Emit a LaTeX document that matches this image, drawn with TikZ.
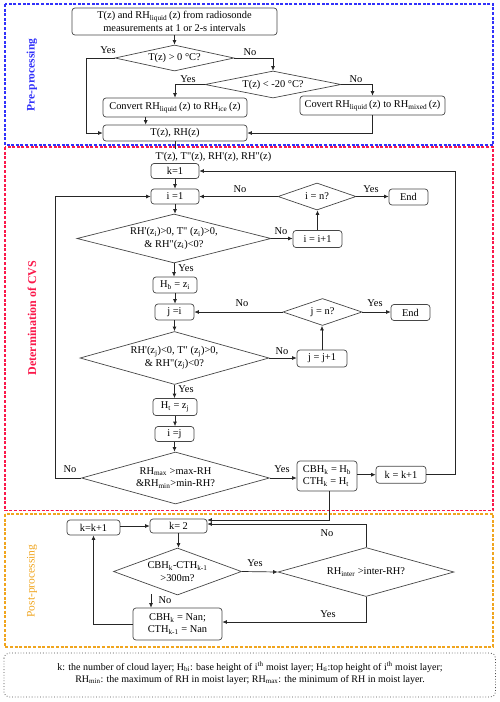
\documentclass[tikz,border=0pt]{standalone}
\usepackage{fontspec}
\setmainfont{Liberation Serif}[Ligatures=TeXOff]
\usetikzlibrary{shapes.geometric,arrows.meta}
\definecolor{cblue}{RGB}{50,50,250}
\definecolor{cred}{RGB}{250,25,75}
\definecolor{corange}{RGB}{240,165,30}
\definecolor{cedge}{RGB}{70,70,70}
\newcommand{\sbx}[1]{\textsubscript{#1}}
\begin{document}
\begin{tikzpicture}[x=1pt,y=-1pt, font=\fontsize{10.4pt}{12.5pt}\selectfont,
 bx/.style 2 args={draw=cedge, line width=0.7pt, rounded corners=3pt, minimum width=#1, minimum height=#2, inner sep=0pt, align=center},
 dm/.style n args={3}{diamond, draw=cedge, line width=0.7pt, minimum width=#1, minimum height=#2, shape aspect=#3, inner sep=0pt, align=center},
 arr/.style={draw=black!85, line width=0.7pt, -{Latex[length=4.5pt,width=4pt]}},
 ln/.style={draw=black!85, line width=0.7pt},
 lbl/.style={inner sep=0pt},
 frame/.style={line width=1.1pt, dash pattern=on 3pt off 1.6pt},
 side/.style={rotate=90, inner sep=0pt}]
\useasboundingbox (0,0) rectangle (500,702);

% frames
\draw[frame, draw=cblue] (5,4) rectangle (493,145);
\draw[frame, draw=cred] (5,147) rectangle (493,510.5);
\draw[frame, draw=corange] (5,514) rectangle (493,647);
\draw[draw=gray!60!black, line width=0.8pt, dotted, rounded corners=5pt] (4,653) rectangle (495.5,697);

% side labels
\node[side, text=cblue, font=\fontsize{11.5pt}{13pt}\selectfont\bfseries] (sp) at (32,75) {Pre-processing};
\node[side, text=cred, font=\fontsize{12pt}{14pt}\selectfont\bfseries] (sd) at (32,318) {Determination of CVS};
\node[side, text=corange, font=\fontsize{11.5pt}{13pt}\selectfont] (so) at (32,581) {Post-processing};

% ---------------- pre-processing
\node[bx={205pt}{27pt}] (n1) at (174.5,21.5) {T(z) and RH\sbx{liquid}\,(z) from radiosonde\\measurements at 1 or 2-s intervals};
\node[dm={119pt}{26pt}{4.58}] (d1) at (174.5,58) {T(z) > 0 °C?};
\node[dm={136pt}{27pt}{5.04}] (d2) at (273,84.5) {T(z) < -20 °C?};
\node[bx={144pt}{19pt}] (bice) at (175,107.5) {Convert RH\sbx{liquid}\,(z) to RH\sbx{ice}\,(z)};
\node[bx={145pt}{19pt}] (bmix) at (372.5,105.5) {Covert RH\sbx{liquid}\,(z) to RH\sbx{mixed}\,(z)};
\node[bx={144pt}{16pt}] (btrh) at (175,133) {T(z), RH(z)};
\coordinate (cL) at (86,133);

\draw[arr] (n1.south) -- (d1.north);
\draw[arr] (d1.west) -| (cL) -- (btrh.west);
\node[lbl] (y1) at (108,50) {Yes};
\draw[arr] (d1.east) -| (d2.north);
\node[lbl] (no1) at (250,52) {No};
\draw[arr] (d2.west) -| (bice.north);
\node[lbl] (y2) at (188,79.5) {Yes};
\draw[arr] (d2.east) -| (bmix.north);
\node[lbl] (no2) at (356,79.5) {No};
\draw[arr] ([xshift=-29.3pt]bice.south) -- ([xshift=-29.3pt]btrh.north);
\draw[arr] (bmix.south) |- (btrh.east);
\coordinate (cT) at (175,148.5);
\draw[ln] (btrh.south) -- (cT);
\node[lbl] (tder) at (213.5,156.5) {T'(z), T"(z), RH'(z), RH"(z)};

% ---------------- determination
\node[bx={48pt}{15pt}] (k1) at (175,171) {k=1};
\node[bx={48pt}{15pt}] (i1) at (175,196.5) {i =1};
\node[dm={78pt}{27pt}{2.89}] (dn1) at (317,196.5) {i = n?};
\node[bx={39pt}{16pt}] (end1) at (408.5,197) {End};
\node[dm={194pt}{49pt}{3.96}] (d3) at (174,238.5) {RH'(z\sbx{i})>0, T" (z\sbx{i})>0,\\ \& RH"(z\sbx{i})<0?};
\node[bx={49pt}{17pt}] (inci) at (317.5,239) {i = i+1};
\node[bx={44pt}{16pt}] (hb) at (175,285) {H\sbx{b} = z\sbx{i}};
\node[bx={39pt}{16pt}] (j1) at (174.5,312) {j =i};
\node[dm={79pt}{27pt}{2.93}] (dn2) at (322.5,312) {j = n?};
\node[bx={39pt}{16pt}] (end2) at (410.5,312.5) {End};
\node[dm={189pt}{53pt}{3.57}] (d4) at (174.5,358) {RH'(z\sbx{j})<0, T" (z\sbx{j})>0,\\ \& RH"(z\sbx{j})<0?};
\node[bx={50pt}{17pt}] (incj) at (322,358.5) {j = j+1};
\node[bx={44pt}{17pt}] (ht) at (175,407) {H\sbx{t} = z\sbx{j}};
\node[bx={39pt}{15pt}] (ij) at (174.5,434) {i =j};
\node[dm={188pt}{52pt}{3.6}] (d5) at (175.5,478) {RH\sbx{max} >max-RH\\\&RH\sbx{min}>min-RH?};
\node[bx={60pt}{30pt}, align=left] (cbh) at (327,476) {CBH\sbx{k} = H\sbx{b}\\CTH\sbx{k} = H\sbx{t}};
\node[bx={50pt}{17pt}] (kinc) at (401,474.7) {k = k+1};
\coordinate (cR) at (455,474.7);
\coordinate (cL2) at (55,478);

\draw[arr] (k1.south) -- (i1.north);
\draw[arr] (dn1.west) -- (i1.east);
\node[lbl] (no3) at (240,189) {No};
\draw[arr] (dn1.east) -- (end1.west |- dn1.east);
\node[lbl] (y3) at (371,189.5) {Yes};
\draw[arr] (i1.south) -- (i1.south |- d3.north);
\draw[arr] (d3.east) -- (d3.east -| inci.west);
\node[lbl] (no4) at (281,231) {No};
\draw[arr] (inci.north) -- (inci.north |- dn1.south);
\draw[arr] (d3.south) -- (d3.south |- hb.north);
\node[lbl] (y4) at (186,268) {Yes};
\draw[arr] (hb.south) -- (hb.south |- j1.north);
\draw[arr] (dn2.west) -- (j1.east);
\node[lbl] (no5) at (242,303) {No};
\draw[arr] (dn2.east) -- (end2.west |- dn2.east);
\node[lbl] (y5) at (375,303) {Yes};
\draw[arr] (j1.south) -- (j1.south |- d4.north);
\draw[arr] (d4.east) -- (d4.east -| incj.west);
\node[lbl] (no6) at (282,351) {No};
\draw[arr] (incj.north) -- (incj.north |- dn2.south);
\draw[arr] (d4.south) -- (d4.south |- ht.north);
\node[lbl] (y6) at (186,389) {Yes};
\draw[arr] (ht.south) -- (ht.south |- ij.north);
\draw[arr] (ij.south) -- (ij.south |- d5.north);
\draw[arr] (d5.west) -- (cL2) |- (i1.west);
\node[lbl] (no7) at (70,469) {No};
\draw[arr] (d5.east) -- (d5.east -| cbh.west);
\node[lbl] (y7) at (282,469) {Yes};
\draw[arr] (cbh.east |- kinc.west) -- (kinc.west);
\draw[arr] (kinc.east) -- (cR) |- (k1.east);

% ---------------- post-processing
\node[bx={57pt}{14pt}] (k2) at (178.5,526) {k= 2};
\node[bx={53pt}{15pt}] (kk) at (93.5,527.5) {k=k+1};
\node[dm={128pt}{47pt}{2.72}] (d6) at (177.5,571.5) {CBH\sbx{k}-CTH\sbx{k-1}\\>300m?};
\node[dm={176pt}{49pt}{3.59}] (d7) at (366,572) {RH\sbx{inter} >inter-RH?};
\node[bx={89pt}{32pt}] (nan) at (177.5,624) {CBH\sbx{k} = Nan;\\CTH\sbx{k-1} = Nan};
\coordinate (cN) at (151,594);

\draw[arr] ([xshift=2pt]cbh.south) |- ([yshift=6pt]k2.east);
\draw[arr] (kk.east |- k2.west) -- (k2.west);
\draw[arr] (k2.south) -- (k2.south |- d6.north);
\draw[arr] (d6.east) -- (d7.west);
\node[lbl] (y8) at (255,563) {Yes};
\draw[arr] (d7.north) |- ([yshift=2pt]k2.east);
\node[lbl] (no8) at (327,533) {No};
\draw[arr] (cN) -- (cN |- nan.north);
\node[lbl] (no9) at (165,600) {No};
\draw[arr] (d7.south) |- ([yshift=2pt]nan.east);
\node[lbl] (y9) at (328,614) {Yes};
\draw[arr] (nan.west) -| (kk.south);

% note
\node[lbl, align=center, font=\fontsize{10pt}{11.8pt}\selectfont] (note) at (250,673) {k: the number of cloud layer; H\sbx{bi}: base height of i\textsuperscript{th} moist layer; H\sbx{ti}:top height of i\textsuperscript{th} moist layer;\\RH\sbx{min}: the maximum of RH in moist layer; RH\sbx{max}: the minimum of RH in moist layer.};
\end{tikzpicture}
\end{document}
